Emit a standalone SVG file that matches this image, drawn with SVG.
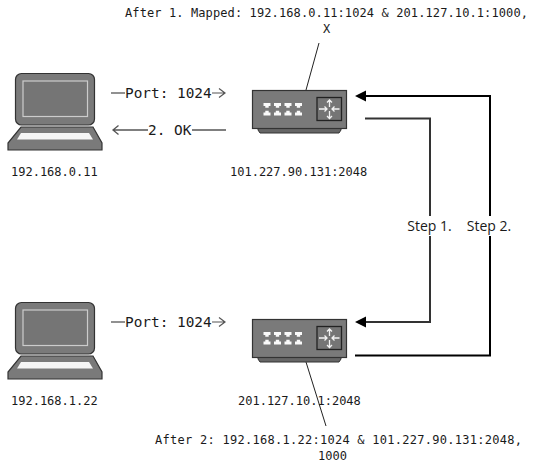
<svg xmlns="http://www.w3.org/2000/svg" width="542" height="471" viewBox="0 0 542 471">
<style>
text{font-family:"DejaVu Sans Mono","Liberation Mono",monospace;font-size:12px;fill:#1a1a1a}
.port{font-size:14.4px}
.step{font-family:"Open Sans","Liberation Sans",sans-serif;font-size:14px;text-anchor:middle}
.thin{fill:none;stroke:#555;stroke-width:1.3}
.open{fill:none;stroke:#555;stroke-width:1.2}
.lead{fill:none;stroke:#222;stroke-width:1}
.bold{fill:none;stroke:#000;stroke-width:2}
.grey{fill:none;stroke:#333;stroke-width:2}
.dev{fill:#7a7a7a;stroke:#333;stroke-width:1.2}
.scr{fill:#757575;stroke:#ccc;stroke-width:1.2}
.port-ico{fill:#fafafa}
.ar{fill:none;stroke:#f2f2f2;stroke-width:1.3}
</style>
<defs>
<path id="jack" d="M0 0H7V3H5.200V4.800H1.800V3H0Z"/>
<g id="laptop">
<rect class="dev" x="15.500" y="73.500" width="79" height="51.500" rx="6"/>
<rect class="scr" x="23" y="81" width="64.500" height="35.500"/>
<path class="dev" d="M21 127H93L102 143V150H8V143Z"/>
<path d="M21 133H89L93 139.500H17Z" fill="#f5f5f5"/>
</g>
<g id="switch">
<path d="M258 128H341V130L339 133H260L258 130Z" fill="#666" stroke="#333"/>
<rect class="dev" x="252.500" y="90.500" width="94" height="38"/>
<rect x="317" y="97.500" width="24.500" height="23" fill="#757575" stroke="#222" stroke-width="1.300"/>
<g class="port-ico">
<use href="#jack" x="263.500" y="103"/>
<use href="#jack" x="274" y="103"/>
<use href="#jack" x="284.500" y="103"/>
<use href="#jack" x="295" y="103"/>
<use href="#jack" transform="matrix(1 0 0 -1 263.500 115.500)"/>
<use href="#jack" transform="matrix(1 0 0 -1 274 115.500)"/>
<use href="#jack" transform="matrix(1 0 0 -1 284.500 115.500)"/>
<use href="#jack" transform="matrix(1 0 0 -1 295 115.500)"/>
</g>
<path class="ar" d="M319 109H327M324.500 106.500L327 109L324.500 111.500M339.500 109H332M334.500 106.500L332 109L334.500 111.500M329.500 107V100M327 102.500L329.500 100L332 102.500M329.500 111V118.500M327 116L329.500 118.500L332 116"/>
</g>
</defs>

<g id="connectors">
<path class="thin" d="M111 93H125"/>
<path class="open" d="M212 93H224M219 88.500L225 93L219 97.500"/>
<path class="thin" d="M148 130H113.500M118.500 125.500L113 130L118.500 134.500"/>
<path class="thin" d="M192 130H226"/>
<path class="thin" d="M111 322H125"/>
<path class="open" d="M212 322H224M219 317.500L225 322L219 326.500"/>
<path class="lead" d="M319 43L306 90"/>
<path class="lead" d="M306 362L326 426"/>
<path class="grey" d="M365 118.500H430V216M430 236V322H366"/>
<path d="M355 322L366 316.500V327.500Z" fill="#000"/>
<path class="bold" d="M355 355.500H490V236M490 216V96H366"/>
<path d="M355 96L366 90.500V101.500Z" fill="#000"/>
</g>

<g id="laptop-a"><use href="#laptop"/><text x="11" y="176">192.168.0.11</text></g>
<g id="laptop-b"><use href="#laptop" y="229"/><text x="11" y="405">192.168.1.22</text></g>
<g id="switch-a"><use href="#switch"/><text x="230" y="176">101.227.90.131:2048</text></g>
<g id="switch-b"><use href="#switch" y="229"/><text x="238" y="405">201.127.10.1:2048</text></g>

<g id="labels">
<text x="125" y="17" textLength="403">After 1. Mapped: 192.168.0.11:1024 &amp; 201.127.10.1:1000,</text>
<text x="323" y="33">X</text>
<text x="155" y="444" textLength="367">After 2: 192.168.1.22:1024 &amp; 101.227.90.131:2048,</text>
<text x="318" y="460">1000</text>
<text class="port" x="125" y="98">Port: 1024</text>
<text class="port" x="148" y="135">2. OK</text>
<text class="port" x="125" y="327">Port: 1024</text>
<text class="step" x="429.500" y="231">Step 1.</text>
<text class="step" x="489" y="231">Step 2.</text>
</g>
</svg>
